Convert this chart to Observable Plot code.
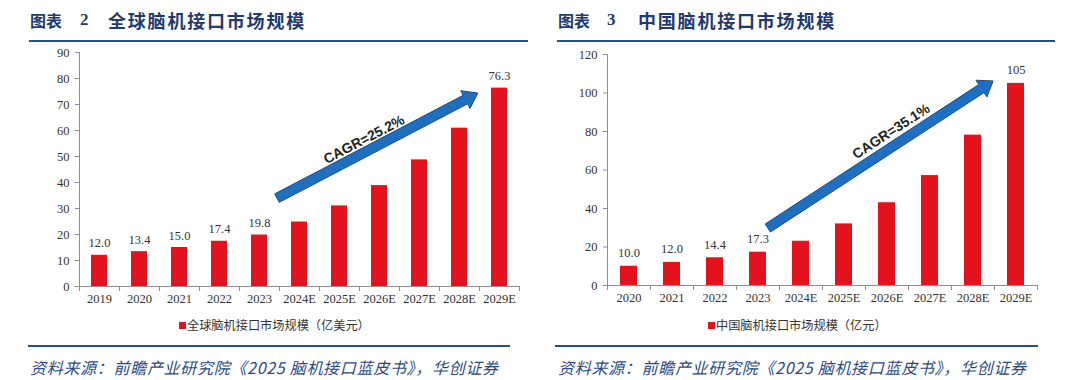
<!DOCTYPE html>
<html><head><meta charset="utf-8">
<script src="https://cdn.jsdelivr.net/npm/d3@7"></script>
<script src="https://cdn.jsdelivr.net/npm/@observablehq/plot@0.6"></script>
<style>
body{margin:0;width:1080px;height:380px;background:#fff;position:relative;overflow:hidden;font-family:"Noto Sans CJK SC",sans-serif;}
.abs{position:absolute;white-space:nowrap;}
.t1{top:8px;line-height:24px;color:#1f3a6e;font-weight:bold;font-size:16px;}
.t2{top:8px;line-height:24px;color:#1f3a6e;font-weight:bold;font-size:17px;font-family:"Liberation Serif",serif;}
.t3{top:8px;line-height:24px;color:#1f3a6e;font-weight:bold;font-size:18px;letter-spacing:1.8px;}
.rule{background:#2b4c86;height:2px;}
.sq{width:7px;height:7px;background:#e3121c;top:322px;}
.lg{top:317px;line-height:17px;font-size:12.2px;color:#333;}
.cap{top:355px;line-height:24px;font-size:16px;font-style:italic;color:#2b4a85;letter-spacing:0.7px;}
.chart{position:absolute;top:40px;}
</style></head><body>
<div id="left" class="chart" style="left:0px"></div>
<div id="right" class="chart" style="left:540px"></div>

<div class="abs t1" style="left:30px">图表</div>
<div class="abs t2" style="left:80px">2</div>
<div class="abs t3" style="left:108px">全球脑机接口市场规模</div>
<div class="abs t1" style="left:558px">图表</div>
<div class="abs t2" style="left:607px">3</div>
<div class="abs t3" style="left:638px">中国脑机接口市场规模</div>

<div class="abs rule" style="left:29px;width:499px;top:40px"></div>
<div class="abs rule" style="left:557px;width:498px;top:40px"></div>

<div class="abs sq" style="left:179px"></div>
<div class="abs lg" style="left:187px">全球脑机接口市场规模（亿美元）</div>
<div class="abs sq" style="left:708px"></div>
<div class="abs lg" style="left:716px">中国脑机接口市场规模（亿元）</div>

<div class="abs rule" style="left:28px;width:482px;top:345px"></div>
<div class="abs rule" style="left:555px;width:483px;top:345px"></div>

<div class="abs cap" style="left:30px">资料来源：前瞻产业研究院《2025 脑机接口蓝皮书》，华创证券</div>
<div class="abs cap" style="left:558px">资料来源：前瞻产业研究院《2025 脑机接口蓝皮书》，华创证券</div>

<script>
// ---- data ----
const globalYears = ["2019","2020","2021","2022","2023","2024E","2025E","2026E","2027E","2028E","2029E"];
const globalValues = [12.0,13.4,15.0,17.4,19.8,24.8,31.0,38.8,48.7,60.9,76.3];
const globalLabels = ["12.0","13.4","15.0","17.4","19.8","","","","","","76.3"];
const globalTicks = [0,10,20,30,40,50,60,70,80,90];
const globalCagr = "CAGR=25.2%";

const chinaYears = ["2020","2021","2022","2023","2024E","2025E","2026E","2027E","2028E","2029E"];
const chinaValues = [10.0,12.0,14.4,17.3,23.0,32.0,43.0,57.1,78.1,105];
const chinaLabels = ["10.0","12.0","14.4","17.3","","","","","","105"];
const chinaTicks = [0,20,40,60,80,100,120];
const chinaCagr = "CAGR=35.1%";

// arrow endpoints: [category, offset in band steps, value]
const globalArrowFrom = ["2024E",-0.55,33.8];
const globalArrowTo   = ["2029E",-0.53,74.2];
const chinaArrowFrom  = ["2024E",-0.76,29.6];
const chinaArrowTo    = ["2029E",-0.52,106];

const RED = "#e3121c";

function axesFrame(cats, ymax) {
  return (index, scales) => {
    const x = scales.x, y = scales.y;
    const step = x.step(), pad = (step - x.bandwidth())/2;
    const g = d3.create("svg:g").attr("stroke","#8f8f8f").attr("stroke-width",1).attr("shape-rendering","crispEdges");
    const y0 = Math.round(y(0)) + 0.5;
    const xs = cats.map(c => x(c) - pad);
    xs.push(x(cats[cats.length-1]) + x.bandwidth() + pad);
    xs.forEach(xx => g.append("line").attr("x1",Math.round(xx)+0.5).attr("x2",Math.round(xx)+0.5).attr("y1",y0).attr("y2",y0+4));
    const xl = Math.round(xs[0]) + 0.5;
    g.append("line").attr("x1",xl).attr("x2",xl).attr("y1",y0).attr("y2",y(ymax));
    g.append("line").attr("x1",xl).attr("x2",Math.round(xs[xs.length-1])+0.5).attr("y1",y0).attr("y2",y0);
    return g.node();
  };
}

function arrowMark(from, to, label, t, off) {
  return (index, scales) => {
    const x = scales.x, y = scales.y;
    const step = x.step();
    const px = (c, f) => x(c) + x.bandwidth()/2 + f*step;
    const x1 = px(from[0], from[1]), y1 = y(from[2]);
    const x2 = px(to[0], to[1]), y2 = y(to[2]);
    const dx = x2 - x1, dy = y2 - y1, L = Math.hypot(dx, dy);
    const ux = dx/L, uy = dy/L, nx = uy, ny = -ux;
    const hw = 4.8, hh = 10, hl = 14;
    const bx = x2 - ux*hl, by = y2 - uy*hl;
    const pts = [
      [x1 + nx*hw, y1 + ny*hw],
      [bx + nx*hw, by + ny*hw],
      [bx + nx*hh, by + ny*hh],
      [x2, y2],
      [bx - nx*hh, by - ny*hh],
      [bx - nx*hw, by - ny*hw],
      [x1 - nx*hw, y1 - ny*hw]
    ];
    const g = d3.create("svg:g");
    g.append("polygon").attr("points", pts.map(p => p.join(",")).join(" "))
      .attr("fill","#1f6fc0").attr("stroke","#1b4d85").attr("stroke-width",1).attr("stroke-linejoin","miter");
    const cx = x1 + dx*t + nx*off, cy = y1 + dy*t + ny*off;
    const ang = Math.atan2(dy, dx) * 180 / Math.PI;
    g.append("text").attr("transform", `translate(${cx},${cy}) rotate(${ang})`)
      .attr("text-anchor","middle").attr("dominant-baseline","central")
      .attr("font-family","Liberation Sans, Arial, sans-serif").attr("font-weight","bold")
      .attr("font-size",14).attr("fill","#222").attr("stroke","none")
      .text(label);
    return g.node();
  };
}

function makeChart({years, values, labels, ticks, ymax, ml, mr, mt, mb, labelDy, arrow}) {
  const data = years.map((year, i) => ({year, value: values[i], label: labels[i]}));
  return Plot.plot({
    width: 540, height: 270,
    marginLeft: ml, marginRight: mr, marginTop: mt, marginBottom: mb,
    style: {fontFamily: "Liberation Serif, Times New Roman, serif", fontSize: "12.5px", color: "#333", background: "transparent", overflow: "visible"},
    x: {domain: years, paddingInner: 0.6, paddingOuter: 0.3, axis: null},
    y: {domain: [0, ymax], axis: null},
    marks: [
      Plot.barY(data, {x: "year", y: "value", fill: RED}),
      axesFrame(years, ymax),
      Plot.axisY({ticks: ticks, tickSize: 4, tickPadding: 6, stroke: "#8f8f8f", fill: "#333", tickFormat: d => String(d), label: null}),
      Plot.axisX({tickSize: 0, tickPadding: 8, fill: "#333", label: null}),
      Plot.text(data.filter(d => d.label), {x: "year", y: "value", text: "label", dy: labelDy, fill: "#333"}),
      arrowMark(...arrow)
    ]
  });
}

document.getElementById("left").appendChild(makeChart({
  years: globalYears, values: globalValues, labels: globalLabels, ticks: globalTicks, ymax: 90,
  ml: 79, mr: 21, mt: 12, mb: 24, labelDy: -12,
  arrow: [globalArrowFrom, globalArrowTo, globalCagr, 0.46, 12]
}));
document.getElementById("right").appendChild(makeChart({
  years: chinaYears, values: chinaValues, labels: chinaLabels, ticks: chinaTicks, ymax: 120,
  ml: 67, mr: 43, mt: 14, mb: 25, labelDy: -13,
  arrow: [chinaArrowFrom, chinaArrowTo, chinaCagr, 0.58, 14]
}));
</script>
</body></html>
